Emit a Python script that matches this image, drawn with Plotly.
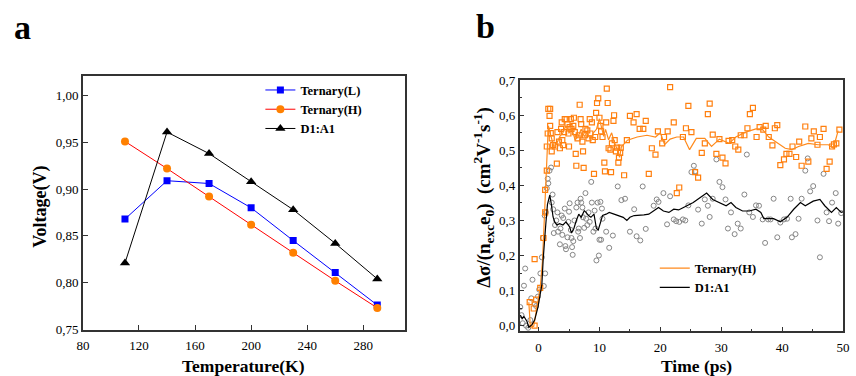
import plotly.graph_objects as go

# ---- panel a: open-circuit voltage vs temperature ----
temperature = [110, 140, 170, 200, 230, 260, 290]
voc_ternary_L = [0.868, 0.909, 0.906, 0.880, 0.845, 0.811, 0.776]
voc_ternary_H = [0.951, 0.922, 0.892, 0.862, 0.832, 0.802, 0.773]
voc_d1a1 = [0.821, 0.961, 0.938, 0.908, 0.878, 0.842, 0.804]

# ---- panel b: photoconductivity transients ----
# smoothed curves
t_fit_H = [-1.6, -1.35, -0.8, -0.5, -0.1, 0.27, 0.65, 0.76, 0.92, 1.03, 1.19, 1.3, 1.45,
           1.6, 1.9, 2.2, 2.5, 3.0, 3.5, 4.0, 4.5, 5.0, 5.5, 6.0, 6.5, 7.0, 7.5, 8.0, 8.5,
           9.0, 9.5, 10.0, 10.3, 10.7, 11.0, 11.5, 12.0, 12.5, 13.0, 13.3, 13.6, 14.6,
           16.2, 17.8, 19.2, 20.0, 20.7, 21.6, 22.7, 23.8, 24.8, 25.9, 27.3, 28.4, 29.7,
           31.3, 32.4, 34.0, 35.7, 36.7, 37.8, 39.4, 40.5, 41.6, 42.7, 44.3, 45.9, 47.6,
           48.4, 49.2]
fit_H = [0.067, -0.004, -0.002, 0.03, 0.06, 0.108, 0.186, 0.236, 0.291, 0.341, 0.392,
         0.447, 0.51, 0.57, 0.55, 0.53, 0.51, 0.52, 0.54, 0.55, 0.57, 0.55, 0.56, 0.53,
         0.54, 0.56, 0.54, 0.55, 0.53, 0.55, 0.56, 0.59, 0.57, 0.54, 0.56, 0.53, 0.55,
         0.52, 0.50, 0.48, 0.51, 0.529, 0.538, 0.543, 0.538, 0.55, 0.516, 0.532, 0.538,
         0.538, 0.502, 0.534, 0.534, 0.511, 0.532, 0.52, 0.538, 0.552, 0.561, 0.561,
         0.538, 0.52, 0.506, 0.502, 0.511, 0.52, 0.516, 0.516, 0.506, 0.556]

t_fit_D = [-3.0, -2.7, -2.4, -2.1, -1.9, -1.6, -1.3, -1.08, -0.65, -0.1, 0.27, 0.54, 0.76,
           1.03, 1.19, 1.46, 1.68, 1.84, 2.1, 2.38, 2.65, 3.0, 3.46, 4.0, 4.5, 5.1, 5.4,
           5.8, 6.2, 6.6, 7.0, 7.5, 7.8, 8.2, 8.6, 9.1, 9.5, 9.8, 10.2, 10.5, 11.1, 11.6,
           12.4, 13.2, 13.9, 14.5, 15.0, 15.7, 16.5, 17.3, 18.1, 18.9, 19.7, 20.5, 21.4,
           22.2, 23.0, 23.8, 24.6, 25.4, 26.5, 27.6, 28.6, 29.7, 30.8, 31.6, 32.4, 33.5,
           34.6, 35.7, 36.5, 37.0, 37.8, 38.6, 39.7, 40.8, 41.9, 43.0, 43.8, 45.1, 46.2,
           47.0, 48.1, 48.9, 49.7, 50.2]
fit_D = [0.03, 0.02, 0.026, 0.015, 0.012, -0.005, 0.0, 0.003, 0.016, 0.053, 0.09, 0.117,
         0.19, 0.24, 0.29, 0.346, 0.364, 0.372, 0.346, 0.31, 0.296, 0.287, 0.291, 0.287,
         0.296, 0.282, 0.264, 0.277, 0.30, 0.318, 0.309, 0.328, 0.323, 0.314, 0.309,
         0.318, 0.277, 0.273, 0.296, 0.314, 0.318, 0.323, 0.318, 0.314, 0.309, 0.30,
         0.309, 0.314, 0.314, 0.316, 0.318, 0.327, 0.337, 0.327, 0.323, 0.332, 0.33,
         0.337, 0.343, 0.351, 0.365, 0.378, 0.36, 0.351, 0.342, 0.351, 0.337, 0.327,
         0.327, 0.332, 0.323, 0.305, 0.305, 0.305, 0.296, 0.309, 0.332, 0.351, 0.342,
         0.355, 0.36, 0.342, 0.323, 0.337, 0.323, 0.325]

# raw measurements, Ternary(H)
t_raw_H = [-1.46, -0.8, -0.65, -0.65, -0.4, 0.27, 0.8, 1.08, 1.08, 1.35, 1.35, 1.5, 1.6,
           1.9, 1.8, 1.9, 2.0, 2.16, 2.16, 2.4, 2.7, 3.0, 3.1, 3.35, 3.5, 3.7, 3.8, 3.9,
           4.05, 4.2, 4.3, 4.6, 4.75, 4.9, 5.0, 5.1, 5.3, 5.4, 5.7, 5.8, 5.95, 6.1, 6.2,
           6.4, 6.6, 6.75, 6.9, 7.0, 7.2, 7.3, 7.4, 7.6, 7.7, 8.0, 8.2, 8.4, 8.5, 8.75,
           8.9, 9.1, 9.3, 9.45, 9.6, 9.8, 10.0, 10.16, 10.27, 10.5, 10.8, 10.9, 11.1,
           11.2, 11.35, 11.5, 11.8, 11.9, 12.05, 12.3, 12.4, 12.5, 12.7, 12.9, 13.1, 13.2,
           13.4, 13.5, 14.05, 14.5, 15.0, 15.6, 16.1, 16.6, 17.2, 17.6, 18.1, 18.6, 19.2,
           19.6, 20.3, 20.6, 21.2, 21.6, 22.2, 22.7, 23.1, 23.7, 24.2, 24.6, 25.1, 25.7,
           26.2, 26.8, 27.3, 27.8, 28.1, 28.6, 29.2, 29.7, 30.2, 30.7, 31.2, 31.8, 32.3,
           32.8, 33.2, 33.8, 34.3, 34.7, 35.2, 35.8, 36.3, 36.9, 37.3, 37.8, 38.4, 38.8,
           39.2, 39.7, 40.3, 40.7, 41.2, 41.7, 42.3, 42.8, 43.2, 43.8, 44.3, 44.8, 45.2,
           45.8, 46.2, 46.8, 47.3, 47.8, 48.2, 48.5, 48.9, 49.4]
raw_H = [0.067, 0.049, 0.0, 0.19, 0.074, 0.108, 0.25, 0.323, 0.387, 0.442, 0.511, 0.548,
         0.618, 0.618, 0.598, 0.57, 0.549, 0.534, 0.497, 0.515, 0.511, 0.462, 0.552,
         0.525, 0.506, 0.561, 0.58, 0.529, 0.515, 0.552, 0.589, 0.589, 0.575, 0.548,
         0.511, 0.566, 0.589, 0.561, 0.57, 0.593, 0.552, 0.49, 0.456, 0.534, 0.543, 0.63,
         0.589, 0.575, 0.525, 0.497, 0.45, 0.543, 0.561, 0.557, 0.534, 0.589, 0.548, 0.58,
         0.529, 0.433, 0.538, 0.607, 0.635, 0.648, 0.593, 0.57, 0.554, 0.538, 0.465, 0.44,
         0.58, 0.676, 0.635, 0.506, 0.502, 0.438, 0.52, 0.584, 0.60, 0.529, 0.497, 0.508,
         0.465, 0.479, 0.493, 0.508, 0.429, 0.529, 0.598, 0.58, 0.603, 0.561, 0.561,
         0.584, 0.433, 0.506, 0.488, 0.554, 0.52, 0.538, 0.554, 0.68, 0.58, 0.378, 0.394,
         0.538, 0.563, 0.627, 0.552, 0.438, 0.422, 0.493, 0.52, 0.603, 0.633, 0.545,
         0.49, 0.532, 0.479, 0.463, 0.527, 0.529, 0.511, 0.502, 0.543, 0.543, 0.563,
         0.603, 0.621, 0.538, 0.566, 0.559, 0.57, 0.538, 0.514, 0.563, 0.572, 0.458,
         0.474, 0.49, 0.49, 0.511, 0.481, 0.525, 0.456, 0.568, 0.468, 0.534, 0.554,
         0.516, 0.538, 0.561, 0.447, 0.468, 0.511, 0.517, 0.52, 0.559]

# raw measurements, D1:A1
t_raw_D = [-3.0, -2.8, -2.4, -2.2, -2.6, -2.05, -1.7, -1.35, -1.2, -1.0, -0.65, -0.4,
           -0.1, 0.1, 0.3, 0.54, 0.7, 1.0, 1.08, 0.86, 1.2, 1.35, 1.5, 1.6, 1.8, 2.05,
           2.3, 2.16, 2.4, 2.5, 2.7, 2.9, 3.1, 3.2, 3.5, 3.6, 3.8, 3.9, 4.05, 4.3, 4.4,
           4.5, 4.75, 4.9, 5.0, 5.1, 5.3, 5.4, 5.5, 5.6, 5.7, 5.9, 6.2, 6.4, 6.5, 6.6,
           6.8, 6.9, 7.0, 7.2, 7.3, 7.5, 7.7, 7.8, 8.0, 8.2, 8.4, 8.65, 8.75, 9.0, 9.2,
           9.35, 9.5, 9.7, 9.9, 10.0, 10.16, 10.27, 10.4, 10.5, 11.1, 11.6, 12.2, 13.0,
           13.6, 14.2, 15.0, 15.7, 16.1, 16.7, 17.1, 17.6, 18.9, 19.4, 19.7, 20.5, 21.1,
           21.6, 22.2, 22.6, 23.1, 23.7, 24.1, 24.6, 25.1, 25.5, 25.7, 26.2, 26.8, 27.3,
           27.8, 28.1, 28.6, 29.2, 29.7, 30.2, 30.7, 31.1, 31.6, 32.2, 32.7, 33.2, 33.8,
           34.2, 34.6, 35.2, 35.7, 36.2, 36.8, 37.2, 37.7, 38.1, 38.6, 39.2, 39.7, 40.3,
           40.8, 41.4, 41.6, 42.2, 42.7, 43.2, 43.8, 44.2, 44.6, 45.1, 45.8, 46.2, 46.8,
           47.3, 47.7, 48.2, 48.8, 49.2, 49.7]
raw_D = [0.053, 0.03, 0.114, 0.163, 0.007, 0.0, -0.006, 0.016, 0.078, 0.131, 0.062,
         0.056, 0.083, 0.103, 0.149, 0.195, 0.25, 0.314, 0.149, 0.113, 0.323, 0.392,
         0.419, 0.406, 0.442, 0.451, 0.374, 0.351, 0.332, 0.264, 0.287, 0.30, 0.323,
         0.268, 0.232, 0.277, 0.314, 0.259, 0.307, 0.334, 0.227, 0.218, 0.252, 0.296,
         0.325, 0.349, 0.273, 0.25, 0.224, 0.202, 0.241, 0.30, 0.337, 0.351, 0.268,
         0.277, 0.25, 0.362, 0.351, 0.337, 0.309, 0.279, 0.378, 0.305, 0.287, 0.323,
         0.296, 0.41, 0.351, 0.268, 0.328, 0.277, 0.186, 0.351, 0.20, 0.245, 0.353,
         0.245, 0.334, 0.305, 0.268, 0.222, 0.257, 0.397, 0.358, 0.362, 0.268, 0.332,
         0.255, 0.243, 0.397, 0.276, 0.342, 0.36, 0.353, 0.378, 0.289, 0.369, 0.303,
         0.298, 0.296, 0.303, 0.30, 0.343, 0.438, 0.456, 0.44, 0.331, 0.291, 0.36, 0.342,
         0.31, 0.362, 0.474, 0.41, 0.395, 0.36, 0.277, 0.323, 0.261, 0.291, 0.277, 0.374,
         0.488, 0.323, 0.31, 0.343, 0.342, 0.303, 0.236, 0.303, 0.303, 0.362, 0.252,
         0.294, 0.303, 0.305, 0.362, 0.252, 0.261, 0.305, 0.362, 0.442, 0.477, 0.383,
         0.398, 0.30, 0.195, 0.433, 0.323, 0.298, 0.351, 0.378, 0.291, 0.321]

SERIF = "Liberation Serif"
ORANGE = "#FF7F0E"
ORANGE_LINE = "#FF8A1C"
AXIS_COLOR = "#333333"

fig = go.Figure()

# panel a traces
fig.add_trace(go.Scatter(x=temperature, y=voc_ternary_L, name="Ternary(L)", mode="lines+markers",
                         line=dict(color="#0000FF", width=1),
                         marker=dict(symbol="square", size=7, color="#0000FF"),
                         xaxis="x", yaxis="y", legend="legend"))
fig.add_trace(go.Scatter(x=temperature, y=voc_ternary_H, name="Ternary(H)", mode="lines+markers",
                         line=dict(color="#FF0000", width=1),
                         marker=dict(symbol="circle", size=8, color="#FF8000"),
                         xaxis="x", yaxis="y", legend="legend"))
fig.add_trace(go.Scatter(x=temperature, y=voc_d1a1, name="D1:A1", mode="lines+markers",
                         line=dict(color="#000000", width=1),
                         marker=dict(symbol="triangle-up", size=9, color="#000000"),
                         xaxis="x", yaxis="y", legend="legend"))

# panel b traces
fig.add_trace(go.Scatter(x=t_raw_D, y=raw_D, mode="markers", showlegend=False,
                         marker=dict(symbol="circle-open", size=5, color="#858585",
                                     line=dict(width=1)),
                         xaxis="x2", yaxis="y2"))
fig.add_trace(go.Scatter(x=t_raw_H, y=raw_H, mode="markers", showlegend=False,
                         marker=dict(symbol="square-open", size=5, color=ORANGE,
                                     line=dict(width=1.2)),
                         xaxis="x2", yaxis="y2"))
fig.add_trace(go.Scatter(x=t_fit_H, y=fit_H, name="Ternary(H)", mode="lines",
                         line=dict(color=ORANGE_LINE, width=1.2),
                         xaxis="x2", yaxis="y2", legend="legend2"))
fig.add_trace(go.Scatter(x=t_fit_D, y=fit_D, name="D1:A1", mode="lines",
                         line=dict(color="#000000", width=1.2),
                         xaxis="x2", yaxis="y2", legend="legend2"))

tick_font = dict(family=SERIF, size=13, color="black")
axis_common = dict(showline=True, mirror=True, linecolor=AXIS_COLOR, linewidth=1.5,
                   showgrid=False, zeroline=False, ticks="inside", ticklen=5,
                   tickcolor=AXIS_COLOR, tickwidth=1, tickfont=tick_font)

W, H = 856, 376

fig.update_layout(
    width=W, height=H,
    margin=dict(l=0, r=0, t=0, b=0),
    paper_bgcolor="white", plot_bgcolor="white",
    separators=",.",
    font=dict(family=SERIF, color="black"),
    xaxis=dict(domain=[78 / W, 405 / W], range=[79.99, 310], tick0=80, dtick=40,
               anchor="y", ticklabelstandoff=3, **axis_common),
    yaxis=dict(domain=[(H - 335) / H, (H - 72) / H], range=[0.7499, 1.0206], tick0=0.75,
               dtick=0.05, tickformat=".2f", anchor="x", **axis_common),
    xaxis2=dict(domain=[521 / W, 849 / W], range=[-3.1, 50.01], tick0=0, dtick=10,
                minor=dict(dtick=5, ticks="inside", ticklen=3, tickcolor=AXIS_COLOR),
                anchor="y2", ticklabelstandoff=3, **axis_common),
    yaxis2=dict(domain=[(H - 337) / H, (H - 76) / H], range=[-0.0165, 0.7001], tick0=0,
                dtick=0.1, tickformat=".1f",
                minor=dict(dtick=0.05, ticks="inside", ticklen=3, tickcolor=AXIS_COLOR),
                anchor="x2", **axis_common),
    legend=dict(x=258 / W, y=1 - 71 / H, xanchor="left", yanchor="top",
                bgcolor="rgba(0,0,0,0)", tracegroupgap=0,
                font=dict(family=SERIF, size=12.5, color="black", weight="bold")),
    legend2=dict(x=658 / W, y=1 - 256 / H, xanchor="left", yanchor="top",
                 bgcolor="rgba(0,0,0,0)", tracegroupgap=0,
                 font=dict(family=SERIF, size=12.5, color="black", weight="bold")),
)

annotations = [
    dict(text="<b>a</b>", x=17 / W, y=1 - 21 / H, font=dict(size=34)),
    dict(text="<b>b</b>", x=486 / W, y=1 - 20 / H, font=dict(size=34)),
    dict(text="<b>Temperature(K)</b>", x=241 / W, y=1 - 373 / H, font=dict(size=17.5)),
    dict(text="<b>Voltage(V)</b>", x=35 / W, y=1 - 208 / H, textangle=-90,
         font=dict(size=18)),
    dict(text="<b>Time (ps)</b>", x=700 / W, y=1 - 373 / H, font=dict(size=17.5)),
    dict(text="<b>Δσ/(n<sub>exc</sub>e<sub>0</sub>)  (cm<sup>2</sup>V<sup>-1</sup>s<sup>-1</sup>)</b>",
         x=484 / W, y=1 - 198 / H, textangle=-90, font=dict(size=19)),
]
for a in annotations:
    a.update(xref="paper", yref="paper", showarrow=False, xanchor="center", yanchor="middle")
    a["font"].update(family=SERIF, color="black")
fig.update_layout(annotations=annotations)

fig.write_html("out.html")
